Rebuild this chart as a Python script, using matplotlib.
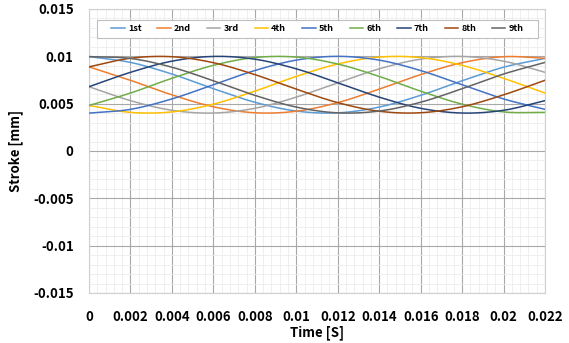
import numpy as np
import matplotlib
matplotlib.use("Agg")
import matplotlib.pyplot as plt
from matplotlib.ticker import MultipleLocator, FixedLocator
from matplotlib.patches import Rectangle

plt.rcParams['font.family'] = ['Noto Sans CJK KR', 'DejaVu Sans']

time = [0, 0.002, 0.004, 0.006, 0.008, 0.010, 0.012, 0.014, 0.016, 0.018, 0.020, 0.022]

s1 = [0.00997, 0.00936, 0.00813, 0.00658, 0.00515, 0.00422, 0.00403, 0.00464, 0.00588, 0.00742, 0.00885, 0.00978]
s2 = [0.00889, 0.00747, 0.00593, 0.00467, 0.00404, 0.00420, 0.00511, 0.00653, 0.00807, 0.00933, 0.00996, 0.00980]
s3 = [0.00679, 0.00532, 0.00430, 0.00401, 0.00451, 0.00569, 0.00721, 0.00868, 0.00970, 0.00999, 0.00949, 0.00831]
s4 = [0.00481, 0.00408, 0.00413, 0.00495, 0.00632, 0.00788, 0.00919, 0.00992, 0.00987, 0.00905, 0.00768, 0.00612]
s5 = [0.00400, 0.00440, 0.00550, 0.00700, 0.00850, 0.00960, 0.01000, 0.00960, 0.00850, 0.00700, 0.00550, 0.00440]
s6 = [0.00481, 0.00612, 0.00768, 0.00905, 0.00987, 0.00992, 0.00919, 0.00788, 0.00632, 0.00495, 0.00413, 0.00408]
s7 = [0.00679, 0.00831, 0.00949, 0.00999, 0.00970, 0.00868, 0.00721, 0.00569, 0.00451, 0.00401, 0.00430, 0.00532]
s8 = [0.00889, 0.00980, 0.00996, 0.00933, 0.00807, 0.00653, 0.00511, 0.00420, 0.00404, 0.00467, 0.00593, 0.00747]
s9 = [0.00997, 0.00978, 0.00885, 0.00742, 0.00588, 0.00464, 0.00403, 0.00422, 0.00515, 0.00658, 0.00813, 0.00936]

labels = ['1st', '2nd', '3rd', '4th', '5th', '6th', '7th', '8th', '9th']
series = [s1, s2, s3, s4, s5, s6, s7, s8, s9]
colors = ['#5B9BD5', '#ED7D31', '#A5A5A5', '#FFC000', '#4472C4',
          '#70AD47', '#264478', '#9E480E', '#636363']

xticks = [0, 0.002, 0.004, 0.006, 0.008, 0.01, 0.012, 0.014, 0.016, 0.018, 0.02, 0.022]
xticklabels = ['0', '0.002', '0.004', '0.006', '0.008', '0.01', '0.012', '0.014',
               '0.016', '0.018', '0.02', '0.022']
yticks = [-0.015, -0.01, -0.005, 0, 0.005, 0.01, 0.015]
yticklabels = ['-0.015', '-0.01', '-0.005', '0', '0.005', '0.01', '0.015']


def smooth(x, y, n=24):
    P = np.column_stack([np.asarray(x, float), np.asarray(y, float)])
    P = np.vstack([2 * P[0] - P[1], P, 2 * P[-1] - P[-2]])
    s = np.linspace(0, 1, n, endpoint=False)[:, None]
    out = []
    for i in range(1, len(P) - 2):
        p0, p1, p2, p3 = P[i - 1], P[i], P[i + 1], P[i + 2]
        pts = 0.5 * ((2 * p1) + (-p0 + p2) * s + (2 * p0 - 5 * p1 + 4 * p2 - p3) * s ** 2
                     + (-p0 + 3 * p1 - 3 * p2 + p3) * s ** 3)
        out.append(pts)
    out.append(P[-2][None, :])
    r = np.vstack(out)
    return r[:, 0], r[:, 1]


fig = plt.figure(figsize=(5.69, 3.43), dpi=100)
ax = fig.add_axes([89 / 569, 1 - 293 / 343, (545 - 89) / 569, (293 - 9) / 343])

for lab, ys, c in zip(labels, series, colors):
    xs, yv = smooth(time, ys)
    ax.plot(xs, yv, color=c, lw=1.1, label=lab, zorder=3)

ax.set_xlim(0, 0.022)
ax.set_ylim(-0.015, 0.015)
ax.xaxis.set_major_locator(FixedLocator(xticks))
ax.yaxis.set_major_locator(FixedLocator(yticks))
ax.set_xticklabels(xticklabels, fontsize=9.5, fontweight='bold')
ax.set_yticklabels(yticklabels, fontsize=9.5, fontweight='bold')
ax.xaxis.set_minor_locator(MultipleLocator(0.0004))
ax.yaxis.set_minor_locator(MultipleLocator(0.001))
ax.tick_params(which='both', length=0)
ax.tick_params(axis='x', pad=12)
ax.tick_params(axis='y', pad=11)
ax.grid(which='minor', color='#EDEDED', lw=0.6, zorder=0)
ax.grid(which='major', color='#A8A8A8', lw=0.8, zorder=1)
ax.set_axisbelow(True)
for sp in ax.spines.values():
    sp.set_color('#D0D0D0')
    sp.set_linewidth(0.8)

ax.set_xlabel('Time [S]', fontsize=9.5, fontweight='bold', labelpad=1)
ax.set_ylabel('Stroke [mm]', fontsize=9.5, fontweight='bold', labelpad=7)

box = Rectangle((0.0175, 0.898), 0.9675, 0.065, transform=ax.transAxes,
                facecolor='white', edgecolor='#BFBFBF', lw=0.8, zorder=5)
ax.add_patch(box)
leg = ax.legend(loc='center', bbox_to_anchor=(0.501, 0.9305), ncol=9, frameon=False,
                prop={'size': 6.5, 'weight': 'bold'}, handlelength=1.5,
                handletextpad=0.35, borderpad=0.2, columnspacing=1.75,
                borderaxespad=0)
leg.set_zorder(6)

fig.savefig('out.png', dpi=100)
